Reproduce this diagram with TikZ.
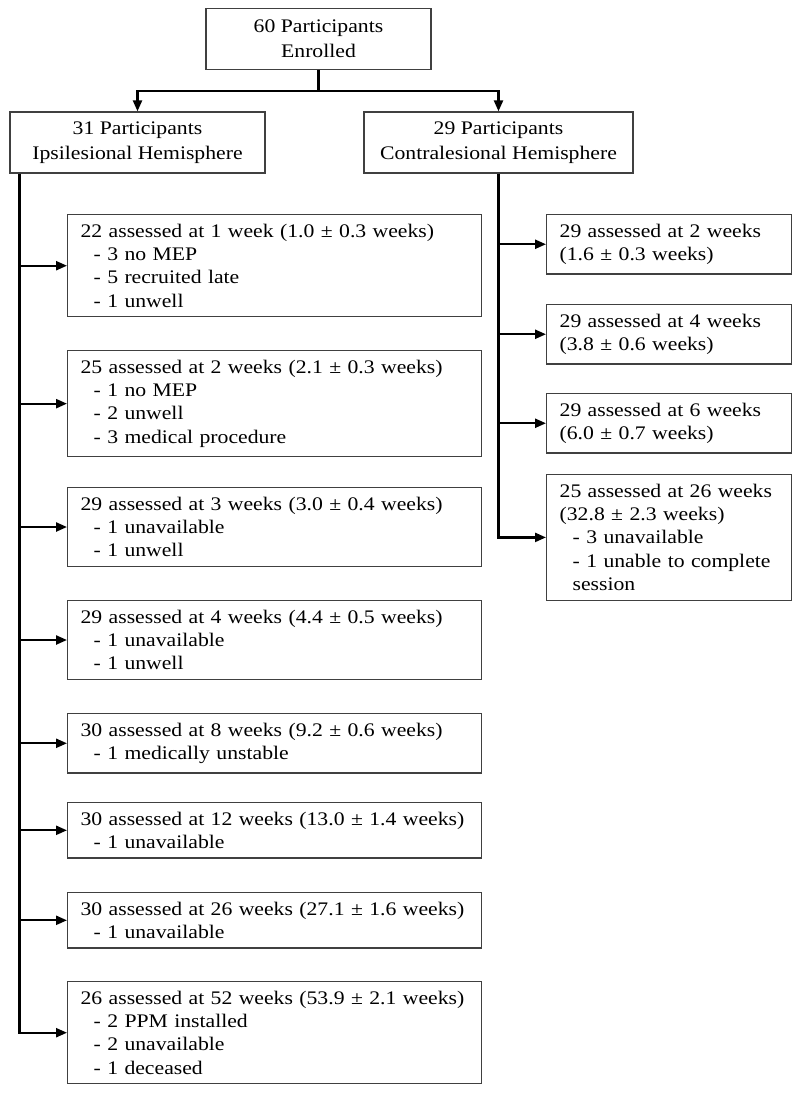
\documentclass[tikz,border=0pt]{standalone}
\usepackage{fontspec}
\setmainfont[FakeStretch=1.13]{Liberation Serif}
\usetikzlibrary{arrows.meta}

\newcommand{\reason}{\hspace*{6.5pt}-\ }

\begin{document}
\begin{tikzpicture}[x=0.5pt, y=-0.5pt,
    box/.style={draw=black!75, line width=0.65pt},
    head/.style={box, align=center, inner sep=0pt, minimum height=30.5pt, font=\fontsize{9.6}{12.3}\selectfont},
    stage/.style={box, anchor=north west, align=left, inner xsep=6.5pt, inner ysep=4.6pt, font=\fontsize{9.6}{11.7}\selectfont},
    wide/.style={stage, text width=194pt},
    narrow/.style={stage, text width=109.5pt},
    link/.style={line width=1.15pt},
    feed/.style={link, -{Triangle[length=5.5pt, width=4.5pt]}}]

	\useasboundingbox (0,0) rectangle (800,1097);

	% groups
	\node[head, minimum width=112.5pt] (enrolled) at (318.5,39) {60 Participants\\Enrolled};
	\node[head, minimum width=127.5pt] (ipsi) at (137.5,142.5) {31 Participants\\Ipsilesional Hemisphere};
	\node[head, minimum width=134.5pt] (contra) at (498.5,142.5) {29 Participants\\Contralesional Hemisphere};

	\draw[link] (enrolled.south) -- ++(0,21) coordinate (split);
	\draw[feed] (split) -| (ipsi.north);
	\draw[feed] (split) -| (contra.north);

	% ipsilesional sessions
	\node[wide] (i1) at (67,214) {22 assessed at 1 week (1.0 ± 0.3 weeks)\\\reason 3 no MEP\\\reason 5 recruited late\\\reason 1 unwell};
	\node[wide] (i2) at (67,350) {25 assessed at 2 weeks (2.1 ± 0.3 weeks)\\\reason 1 no MEP\\\reason 2 unwell\\\reason 3 medical procedure};
	\node[wide] (i3) at (67,487) {29 assessed at 3 weeks (3.0 ± 0.4 weeks)\\\reason 1 unavailable\\\reason 1 unwell};
	\node[wide] (i4) at (67,600) {29 assessed at 4 weeks (4.4 ± 0.5 weeks)\\\reason 1 unavailable\\\reason 1 unwell};
	\node[wide] (i5) at (67,713) {30 assessed at 8 weeks (9.2 ± 0.6 weeks)\\\reason 1 medically unstable};
	\node[wide] (i6) at (67,802) {30 assessed at 12 weeks (13.0 ± 1.4 weeks)\\\reason 1 unavailable};
	\node[wide] (i7) at (67,892) {30 assessed at 26 weeks (27.1 ± 1.6 weeks)\\\reason 1 unavailable};
	\node[wide] (i8) at (67,981) {26 assessed at 52 weeks (53.9 ± 2.1 weeks)\\\reason 2 PPM installed\\\reason 2 unavailable\\\reason 1 deceased};

	% contralesional sessions
	\node[narrow] (c1) at (546,214) {29 assessed at 2 weeks\\(1.6 ± 0.3 weeks)};
	\node[narrow] (c2) at (546,304) {29 assessed at 4 weeks\\(3.8 ± 0.6 weeks)};
	\node[narrow] (c3) at (546,393) {29 assessed at 6 weeks\\(6.0 ± 0.7 weeks)};
	\node[narrow] (c4) at (546,474) {25 assessed at 26 weeks\\(32.8 ± 2.3 weeks)\\\reason 3 unavailable\\\reason 1 unable to complete\\\hspace*{6.5pt}session};

	\coordinate (ltrunk) at ([xshift=5pt]ipsi.south west);
	\coordinate (rtrunk) at (contra.south);

	\draw[feed] (ltrunk) |- (i8.west);
	\foreach \n in {1,...,7}
		\draw[feed] (ltrunk |- i\n.west) -- (i\n.west);

	\draw[feed] (rtrunk) |- (c4.west);
	\foreach \n in {1,2,3}
		\draw[feed] (rtrunk |- c\n.west) -- (c\n.west);
\end{tikzpicture}
\end{document}
